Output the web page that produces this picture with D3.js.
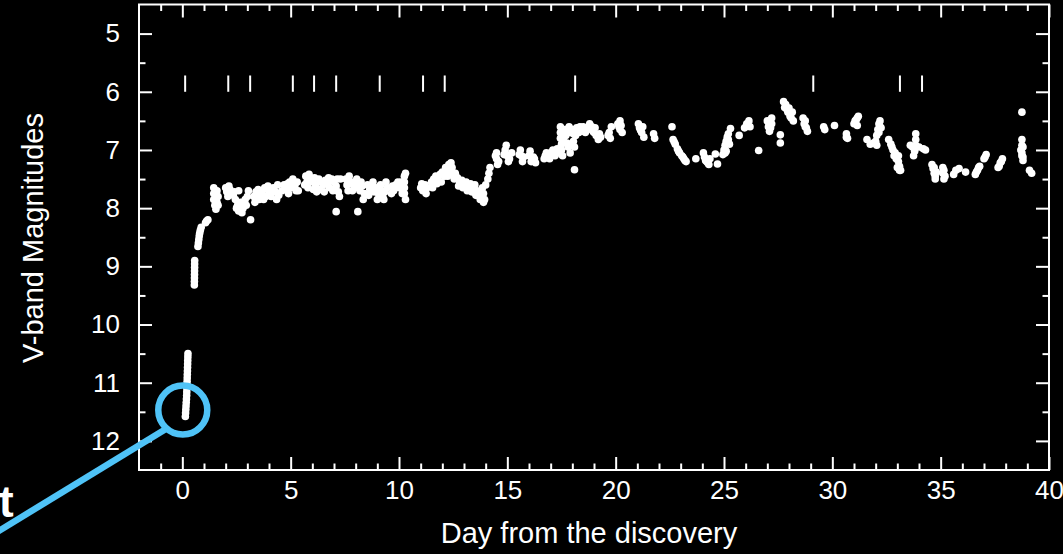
<!DOCTYPE html>
<html>
<head>
<meta charset="utf-8">
<script src="https://cdn.jsdelivr.net/npm/d3@7/dist/d3.min.js"></script>
<style>
  html, body { margin: 0; padding: 0; background: #000; }
  svg { display: block; }
</style>
</head>
<body>
<svg id="chart" width="1063" height="554"></svg>
<script>
// V-band light curve of the nova: [day from discovery, V magnitude]
const observations = [
  // discovery night
  [0.26,10.50],[0.255,10.56],[0.25,10.62],[0.245,10.68],[0.24,10.74],[0.235,10.80],[0.23,10.86],
  [0.225,10.92],[0.22,10.98],[0.215,11.04],[0.21,11.10],[0.205,11.16],[0.20,11.22],[0.19,11.28],
  [0.18,11.34],[0.17,11.40],[0.16,11.46],[0.15,11.52],[0.14,11.58],
  [0.57,8.90],[0.568,8.96],[0.566,9.02],[0.564,9.08],[0.562,9.14],[0.56,9.20],[0.558,9.26],[0.555,9.32],
  [0.72,8.66],[0.74,8.60],[0.76,8.54],[0.78,8.48],[0.80,8.43],[0.83,8.38],[0.87,8.33],
  [1.07,8.25],[1.12,8.22],[1.18,8.20],
  // early plateau
  [1.45,7.65],[1.45,7.75],[1.45,7.85],[1.50,7.95],[1.55,8.02],[1.60,7.90],[1.60,7.70],[1.65,7.80],
  [1.55,7.72],[1.65,7.95],
  [2.00,7.65],[2.05,7.72],[2.10,7.80],[2.20,7.68],[2.25,7.75],[2.15,7.62],
  [2.35,7.78],[2.45,7.85],[2.55,7.95],[2.60,8.05],[2.70,7.90],[2.80,8.00],[2.90,7.85],[3.00,7.80],[2.60,7.70],
  [2.40,7.72],[2.50,8.00],[2.75,8.08],[2.95,7.95],[3.05,7.70],
  [3.15,8.20],
  [3.30,7.80],[3.40,7.72],[3.50,7.68],[3.60,7.78],[3.70,7.70],[3.80,7.65],[3.85,7.80],
  [3.35,7.90],[3.55,7.85],[3.75,7.85],[3.95,7.62],
  [4.00,7.70],[4.10,7.80],[4.20,7.65],[4.30,7.72],[4.40,7.60],[4.45,7.78],[4.15,7.70],[4.35,7.85],
  [4.70,7.60],[4.80,7.68],[4.95,7.55],[5.00,7.65],[4.60,7.70],[4.85,7.58],[4.90,7.75],
  [5.10,7.50],[5.20,7.60],[5.30,7.55],[5.35,7.70],[5.25,7.70],
  [5.70,7.45],[5.75,7.55],[5.80,7.65],[5.90,7.50],[6.00,7.55],[6.10,7.48],[6.15,7.60],[6.20,7.72],
  [5.65,7.60],[5.85,7.42],[6.05,7.68],
  [6.30,7.50],[6.40,7.55],[6.50,7.60],[6.60,7.52],[6.70,7.58],[6.80,7.65],[6.90,7.50],[7.00,7.55],
  [7.10,7.62],[7.20,7.72],[7.25,7.80],[7.30,7.50],
  [6.35,7.68],[6.55,7.72],[6.75,7.48],[6.95,7.70],[7.15,7.50],
  [7.10,8.06],[8.10,8.06],
  [7.55,7.50],[7.60,7.60],[7.70,7.45],[7.80,7.55],[7.90,7.60],[8.00,7.65],[8.10,7.58],[8.20,7.70],
  [8.30,7.62],[8.40,7.75],
  [7.65,7.70],[7.85,7.70],[8.05,7.50],[8.25,7.55],[8.35,7.85],
  [8.55,7.60],[8.65,7.68],[8.75,7.62],[8.85,7.72],[8.95,7.65],[9.05,7.75],[9.15,7.60],[9.20,7.70],
  [9.25,7.80],[9.30,7.85],[9.40,7.55],[9.45,7.65],
  [8.60,7.78],[8.80,7.55],[9.00,7.85],[9.10,7.70],[9.35,7.72],
  [9.70,7.62],[9.75,7.70],[9.85,7.60],[10.00,7.65],[10.10,7.55],[10.25,7.45],[10.25,7.55],
  [10.25,7.65],[10.25,7.75],[10.30,7.85],[10.20,7.60],
  [9.65,7.75],[9.95,7.55],[10.15,7.75],[10.30,7.40],
  [11.00,7.65],[11.10,7.70],[11.20,7.60],[11.30,7.65],[11.05,7.58],[11.25,7.75],
  [11.50,7.55],[11.60,7.50],[11.70,7.45],[11.80,7.50],[11.90,7.42],[12.00,7.38],[12.10,7.45],
  [12.20,7.35],[12.30,7.25],[12.35,7.35],[12.45,7.30],[12.50,7.42],[12.60,7.40],
  [11.55,7.65],[11.75,7.58],[11.95,7.55],[12.15,7.30],[12.25,7.45],[12.40,7.22],[12.55,7.50],
  [12.70,7.48],[12.80,7.55],[12.90,7.52],[13.00,7.60],[13.10,7.55],[13.20,7.62],[13.30,7.58],
  [13.40,7.65],[13.50,7.60],[13.60,7.70],
  [12.75,7.62],[12.95,7.65],[13.15,7.70],[13.35,7.72],[13.55,7.78],[13.75,7.85],[13.90,7.90],
  [13.70,7.72],[13.80,7.80],[13.85,7.65],[13.90,7.75],[13.95,7.85],[14.00,7.60],[14.10,7.50],
  [14.15,7.40],[14.20,7.30],
  // second rise
  [14.50,7.15],[14.50,7.05],[14.55,7.25],[14.90,7.00],[14.95,6.92],[15.00,7.10],[15.05,7.20],[15.20,7.05],
  [14.45,7.10],[14.60,7.20],[14.85,7.08],[15.10,7.15],
  [15.60,7.00],[15.65,7.10],[15.70,7.20],[16.00,7.10],[16.10,7.20],[16.30,7.22],[16.20,7.12],
  [15.55,7.08],[15.75,7.12],[16.05,7.02],[16.25,7.15],
  [16.70,7.15],[16.80,7.05],[16.90,7.10],[17.00,7.05],[17.10,7.00],[17.20,7.10],[17.30,6.98],
  [16.75,7.10],[16.95,7.15],[17.15,7.05],[17.35,7.05],
  [17.45,6.60],[17.45,6.70],[17.45,6.80],[17.50,6.90],[17.50,7.00],[17.55,7.10],[17.60,6.85],
  [17.70,6.75],[17.80,6.95],[17.90,7.05],[17.90,6.70],[18.00,6.65],[18.05,6.85],[18.10,6.95],
  [18.15,6.75],[18.20,6.62],[18.30,6.70],[18.35,6.60],
  [17.65,6.65],[17.75,6.88],[17.85,6.60],[17.95,6.90],[18.05,6.72],[18.25,6.70],
  [18.10,7.34],
  [18.50,6.60],[18.60,6.70],[18.70,6.65],[18.80,6.55],[18.90,6.60],[19.00,6.70],[19.10,6.75],
  [19.20,6.82],[19.30,6.78],
  [18.55,6.68],[18.75,6.60],[18.95,6.68],[19.05,6.62],[19.25,6.72],
  [19.70,6.70],[19.75,6.80],[19.80,6.60],[20.10,6.55],[20.20,6.50],[20.20,6.65],[20.30,6.70],
  [19.65,6.75],[20.15,6.60],[20.25,6.58],
  [21.05,6.55],[21.10,6.62],[21.20,6.70],[21.30,6.78],[21.15,6.66],[21.25,6.60],
  [21.75,6.72],[21.80,6.80],
  // oscillating maximum
  [22.60,6.60],
  [22.65,6.82],[22.75,6.90],[22.85,6.98],[22.95,7.05],[23.05,7.10],[23.15,7.15],[23.25,7.20],
  [22.70,6.86],[22.90,7.02],[23.10,7.12],[23.20,7.18],
  [23.70,7.15],
  [24.05,7.05],[24.10,7.12],[24.20,7.20],[24.30,7.25],[24.35,7.15],[24.15,7.18],[24.25,7.22],
  [24.60,7.07],[24.70,7.24],
  [24.95,7.08],[25.00,7.00],[25.05,6.92],[25.10,6.85],[25.15,6.78],[25.20,6.72],[25.10,7.02],[25.25,6.90],
  [25.05,7.05],[25.15,6.88],[25.20,6.82],
  [25.30,6.63],[25.70,6.75],
  [25.95,6.62],[26.05,6.55],[26.15,6.50],[26.20,6.60],[26.10,6.58],
  [26.60,7.01],
  [27.00,6.50],[27.05,6.60],[27.10,6.68],[27.20,6.55],[27.20,6.45],[27.05,6.52],[27.15,6.62],
  [27.60,6.74],[27.60,6.88],
  [27.75,6.17],[27.80,6.27],[27.90,6.30],[28.00,6.28],[28.05,6.37],[28.10,6.45],[28.20,6.50],[28.15,6.35],
  [27.85,6.22],[27.95,6.35],[28.05,6.42],
  [28.65,6.45],[28.70,6.55],[28.80,6.62],[28.85,6.68],[28.75,6.50],[28.75,6.60],
  [29.60,6.60],[29.65,6.65],
  [30.10,6.58],
  [30.65,6.72],[30.70,6.80],[30.65,6.78],
  [31.00,6.55],[31.10,6.48],[31.20,6.42],[31.15,6.58],[31.05,6.50],[31.15,6.45],
  [31.60,6.82],[31.75,6.90],[31.90,6.88],
  [32.00,6.85],[32.05,6.75],[32.10,6.65],[32.15,6.55],[32.20,6.50],[32.25,6.62],[32.05,6.92],
  [32.15,6.70],[32.20,6.60],
  [32.60,6.82],[32.70,6.90],[32.80,7.00],[32.90,7.05],[32.95,7.15],[33.05,7.20],[33.10,7.28],
  [33.15,7.35],[33.00,7.30],[32.75,6.95],[32.85,7.10],[33.05,7.10],[33.10,7.35],
  [33.60,6.92],[33.70,6.95],[33.85,6.72],[33.85,6.82],[33.85,6.92],[33.80,7.02],[33.75,7.10],
  [34.00,6.95],[34.20,6.98],[34.30,7.00],
  // late decline
  [34.60,7.25],[34.65,7.32],[34.70,7.40],[34.75,7.50],[34.80,7.38],[34.70,7.30],[34.75,7.45],
  [35.10,7.30],[35.10,7.40],[35.15,7.50],[35.15,7.35],[35.20,7.45],
  [35.60,7.42],[35.70,7.35],[35.85,7.32],
  [36.15,7.38],
  [36.60,7.42],[36.70,7.35],[36.80,7.28],[36.65,7.38],[36.75,7.30],
  [37.00,7.15],[37.10,7.08],[37.05,7.12],
  [37.65,7.30],[37.75,7.22],[37.85,7.15],[37.70,7.28],[37.80,7.20],
  [38.75,6.35],
  [38.75,6.82],[38.75,6.92],[38.70,7.00],[38.75,7.10],[38.80,7.18],[38.80,6.95],[38.75,7.05],[38.80,7.12],
  [39.10,7.35],[39.20,7.40]
];

// Days of the spectroscopic observations (short vertical markers)
const eventDays = [0.13, 2.12, 3.13, 5.10, 6.08, 7.10, 9.11, 11.11, 12.11, 18.13, 29.12, 33.12, 34.14];
const eventMagTop = 5.72;
const eventMagBottom = 6.0;

// Axis tick values
const xMajorTicks = [0, 5, 10, 15, 20, 25, 30, 35, 40];
const xMinorTicks = [-1, 1, 2, 3, 4, 6, 7, 8, 9, 11, 12, 13, 14, 16, 17, 18, 19, 21, 22, 23, 24,
                     26, 27, 28, 29, 31, 32, 33, 34, 36, 37, 38, 39];
const yMajorTicks = [5, 6, 7, 8, 9, 10, 11, 12];
const yMinorTicks = [5.5, 6.5, 7.5, 8.5, 9.5, 10.5, 11.5];

// Highlighted detection at discovery
const highlightDay = 0.02;
const highlightMag = 11.47;

const svg = d3.select("#chart");
const W = 1063, H = 554;
svg.append("rect").attr("width", W).attr("height", H).attr("fill", "#000");

const x = d3.scaleLinear().domain([-2, 40]).range([139, 1049]);
const y = d3.scaleLinear().domain([4.5, 12.5]).range([4.5, 470]);

const FONT = "'Liberation Sans', Arial, Helvetica, sans-serif";
const MAJ = 13, MIN = 6.5;

function styleAxis(g) {
  g.select(".domain").remove();
  g.selectAll(".tick line").attr("stroke", "#fff").attr("stroke-width", 2);
  g.selectAll(".tick text").attr("fill", "#fff").style("font-family", FONT).style("font-size", "26px");
}

const x0 = x.range()[0], x1 = x.range()[1];
const y0 = y.range()[0], y1 = y.range()[1];

// bottom axis (labelled)
svg.append("g").attr("transform", `translate(0,${y1})`)
  .call(d3.axisBottom(x).tickValues(xMajorTicks).tickSize(-MAJ).tickPadding(11).tickFormat(d3.format("d")))
  .call(styleAxis);
svg.append("g").attr("transform", `translate(0,${y1})`)
  .call(d3.axisBottom(x).tickValues(xMinorTicks).tickSize(-MIN).tickFormat(""))
  .call(styleAxis);
// top axis
svg.append("g").attr("transform", `translate(0,${y0})`)
  .call(d3.axisTop(x).tickValues(xMajorTicks).tickSize(-MAJ).tickFormat(""))
  .call(styleAxis);
svg.append("g").attr("transform", `translate(0,${y0})`)
  .call(d3.axisTop(x).tickValues(xMinorTicks).tickSize(-MIN).tickFormat(""))
  .call(styleAxis);
// left axis (labelled)
svg.append("g").attr("transform", `translate(${x0},0)`)
  .call(d3.axisLeft(y).tickValues(yMajorTicks).tickSize(-MAJ).tickPadding(19).tickFormat(d3.format("d")))
  .call(styleAxis);
svg.append("g").attr("transform", `translate(${x0},0)`)
  .call(d3.axisLeft(y).tickValues(yMinorTicks).tickSize(-MIN).tickFormat(""))
  .call(styleAxis);
// right axis
svg.append("g").attr("transform", `translate(${x1},0)`)
  .call(d3.axisRight(y).tickValues(yMajorTicks).tickSize(-MAJ).tickFormat(""))
  .call(styleAxis);
svg.append("g").attr("transform", `translate(${x1},0)`)
  .call(d3.axisRight(y).tickValues(yMinorTicks).tickSize(-MIN).tickFormat(""))
  .call(styleAxis);

// frame
svg.append("rect")
  .attr("x", x0).attr("y", y0).attr("width", x1 - x0).attr("height", y1 - y0)
  .attr("fill", "none").attr("stroke", "#fff").attr("stroke-width", 2);

// spectroscopy markers
svg.append("g").selectAll("line").data(eventDays).join("line")
  .attr("x1", d => x(d)).attr("x2", d => x(d))
  .attr("y1", y(eventMagTop)).attr("y2", y(eventMagBottom))
  .attr("stroke", "#fff").attr("stroke-width", 2);

// photometry
svg.append("g").selectAll("circle").data(observations).join("circle")
  .attr("cx", d => x(d[0])).attr("cy", d => y(d[1])).attr("r", 3.8)
  .attr("fill", "#fff");

// axis titles
svg.append("text")
  .attr("x", 589).attr("y", 543)
  .attr("text-anchor", "middle").attr("fill", "#fff")
  .style("font-family", FONT).style("font-size", "29px")
  .text("Day from the discovery");
svg.append("text")
  .attr("transform", "translate(43,238) rotate(-90)")
  .attr("text-anchor", "middle").attr("fill", "#fff")
  .style("font-family", FONT).style("font-size", "29px")
  .text("V-band Magnitudes");

// callout ring around the first detection
const BLUE = "#4FC3F7";
const cx = x(highlightDay), cy = y(highlightMag), R = 24.5;
svg.append("circle").attr("cx", cx).attr("cy", cy).attr("r", R)
  .attr("fill", "none").attr("stroke", BLUE).attr("stroke-width", 6.5);
const theta = Math.atan2(19.5, -17);
const sx = cx + R * Math.cos(theta), sy = cy + R * Math.sin(theta);
const dir = [-1, 0.61], len = Math.hypot(dir[0], dir[1]);
svg.append("line")
  .attr("x1", sx).attr("y1", sy)
  .attr("x2", sx + 260 * dir[0] / len).attr("y2", sy + 260 * dir[1] / len)
  .attr("stroke", BLUE).attr("stroke-width", 6.5);

// tail of the callout caption
svg.append("text")
  .attr("x", -1).attr("y", 517).attr("fill", "#fff")
  .style("font-family", FONT).style("font-size", "44px").style("font-weight", "bold")
  .text("t");
</script>
</body>
</html>
